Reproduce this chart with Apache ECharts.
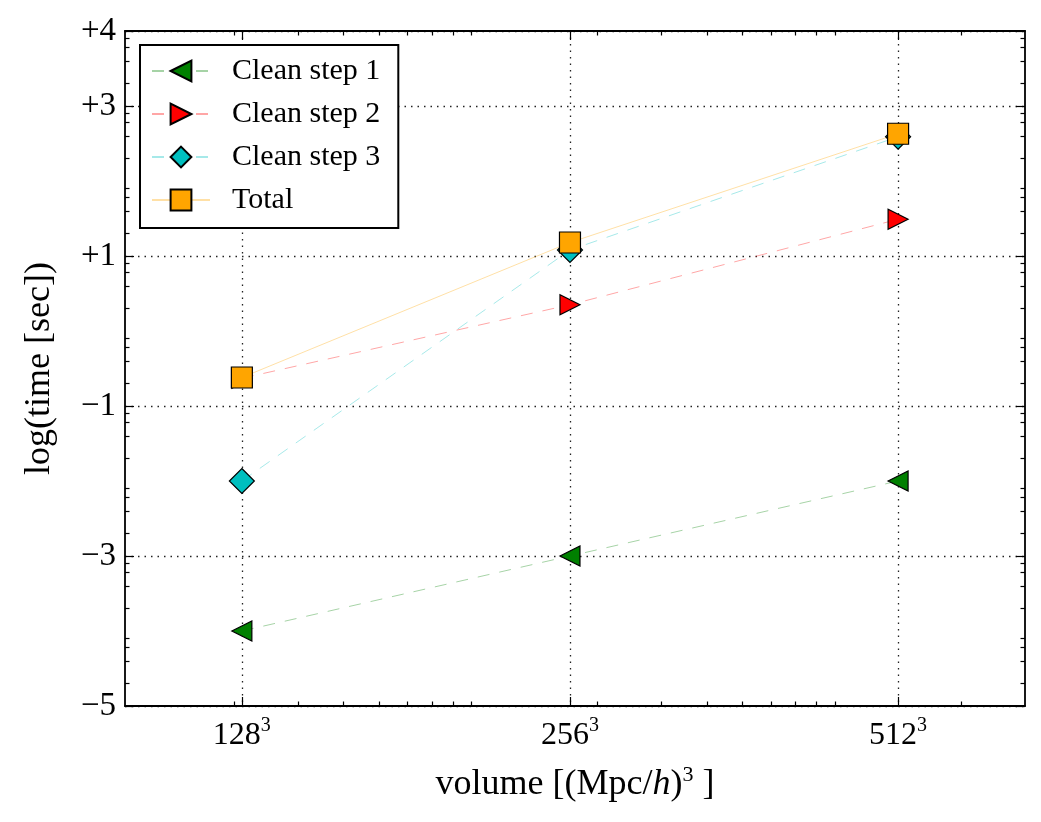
<!DOCTYPE html>
<html>
<head>
<meta charset="utf-8">
<script src="https://cdn.jsdelivr.net/npm/echarts@6/dist/echarts.min.js"></script>
<style>
    html, body {margin: 0; padding: 0; background: #fff;}
    #main {width: 1041px; height: 822px;}
</style>
</head>
<body>
<div id="main"></div>
<script>
// box sizes (N), volume = N^3
let gridSizes = [128, 256, 512];
// log(time [sec]) per step
let step1 = [-4.0, -3.0, -2.0];
let step2 = [-0.63, 0.35, 1.49];
let step3 = [-2.0, 1.08, 2.59];
let total = [-0.62, 1.18, 2.63];
// y tick labels and log sub-ticks
let yLabels = [-5, -3, -1, 1, 3, 4];
let ySubs = [2, 4, 6, 8];
let xSubs = [2, 3, 4, 5, 6, 7, 8, 9];

let font = 'Liberation Serif';
// x axis is log10(volume), from 1e6 to 3e8
let xMin = 6, xMax = Math.log10(3e8), yMin = -5, yMax = 4;

let xs = gridSizes.map(n => Math.log10(Math.pow(n, 3)));

let xMinor = [];
for (let d = 5; d <= 8; d++) {
    xSubs.forEach(k => {
        let v = d + Math.log10(k);
        if (v > xMin && v < xMax) xMinor.push(v);
    });
}
let yMinor = [];
for (let d = -5; d <= 3; d++) {
    ySubs.forEach(k => yMinor.push(d + Math.log10(k)));
}

function pairs(vals) {
    return vals.map((v, i) => [xs[i], v]);
}

function fmtY(v) {
    let r = Math.round(v);
    return r > 0 ? '+' + r : '\u2212' + Math.abs(r);
}

let axisLine = {show: true, onZero: false, lineStyle: {color: '#000', width: 1.8}};
let noLine = {show: false, onZero: false};
let gridLine = {show: true, lineStyle: {color: '#222', width: 1.3, type: [1.5, 5]}};

function xAxis(pos, ticks, len, main) {
    return {
        type: 'value', position: pos, min: xMin, max: xMax,
        axisLine: main ? axisLine : noLine,
        axisTick: {show: true, inside: true, length: len, customValues: ticks,
            lineStyle: {color: '#000', width: 1.2}},
        axisLabel: main && pos === 'bottom' ? {
            show: true, customValues: xs, margin: 10,
            formatter: function (v) {
                let i = xs.findIndex(x => Math.abs(x - v) < 1e-6);
                return '{b|' + gridSizes[i] + '}{s|3}';
            },
            rich: {
                b: {fontFamily: font, fontSize: 32, color: '#000'},
                s: {fontFamily: font, fontSize: 20, color: '#000', verticalAlign: 'bottom', padding: [0, 0, 19, 0]}
            }
        } : {show: false},
        splitLine: main && pos === 'bottom' ? gridLine : {show: false},
        name: main && pos === 'bottom' ? '{a|volume [(Mpc/}{i|h}{a|)}{s|3}{a| ]}' : '',
        nameLocation: 'middle', nameGap: 58,
        nameTextStyle: {
            rich: {
                a: {fontFamily: font, fontSize: 36, color: '#000'},
                i: {fontFamily: font, fontSize: 36, fontStyle: 'italic', color: '#000'},
                s: {fontFamily: font, fontSize: 22, color: '#000', verticalAlign: 'bottom', padding: [0, 0, 20, 0]}
            }
        }
    };
}

function yAxis(pos, ticks, len, main) {
    return {
        type: 'value', position: pos, min: yMin, max: yMax,
        axisLine: main ? axisLine : noLine,
        axisTick: {show: true, inside: true, length: len, customValues: ticks,
            lineStyle: {color: '#000', width: 1.2}},
        axisLabel: main && pos === 'left' ? {
            show: true, customValues: yLabels, margin: 9,
            formatter: fmtY, fontFamily: font, fontSize: 33, color: '#000'
        } : {show: false},
        splitLine: main && pos === 'left' ? gridLine : {show: false},
        name: main && pos === 'left' ? 'log(time [sec])' : '',
        nameLocation: 'middle', nameGap: 67,
        nameTextStyle: {fontFamily: font, fontSize: 36, color: '#000'}
    };
}

function lineSeries(name, vals, color, symbol, rot, size, dashed) {
    return {
        name: name, type: 'line', data: pairs(vals),
        symbol: symbol, symbolRotate: rot, symbolSize: size,
        showAllSymbol: true,
        itemStyle: {color: color, borderColor: '#000', borderWidth: 1.2, opacity: 1},
        lineStyle: {color: color, width: 1, opacity: 0.35, type: dashed ? [12, 10] : 'solid'},
        emphasis: {disabled: true},
        z: 3
    };
}

let myChart = echarts.init(document.getElementById('main'), null, {renderer: 'canvas'});

let option = {
    backgroundColor: '#fff',
    animation: false,
    grid: {left: 125, right: 16, top: 31, bottom: 116},
    legend: {
        left: 140, top: 45, orient: 'vertical',
        backgroundColor: '#fff', borderColor: '#000', borderWidth: 2,
        padding: [11, 18, 13, 11],
        itemWidth: 58, itemHeight: 26, itemGap: 13,
        textStyle: {fontFamily: font, fontSize: 30, lineHeight: 30, color: '#000', padding: [0, 0, 0, 17]},
        data: ['Clean step 1', 'Clean step 2', 'Clean step 3', 'Total']
    },
    xAxis: [
        xAxis('bottom', xs, 9, true),
        xAxis('bottom', xMinor, 4.5, false),
        xAxis('top', xs, 9, true),
        xAxis('top', xMinor, 4.5, false)
    ],
    yAxis: [
        yAxis('left', yLabels, 9, true),
        yAxis('left', yMinor, 4.5, false),
        yAxis('right', yLabels, 9, true),
        yAxis('right', yMinor, 4.5, false)
    ],
    series: [
        lineSeries('Clean step 1', step1, '#008000', 'triangle', 90, 20, true),
        lineSeries('Clean step 2', step2, '#ff0000', 'triangle', -90, 20, true),
        lineSeries('Clean step 3', step3, '#00bfbf', 'diamond', 0, 25, true),
        lineSeries('Total', total, '#ffa500', 'rect', 0, 21, false)
    ]
};

myChart.setOption(option);
</script>
</body>
</html>
